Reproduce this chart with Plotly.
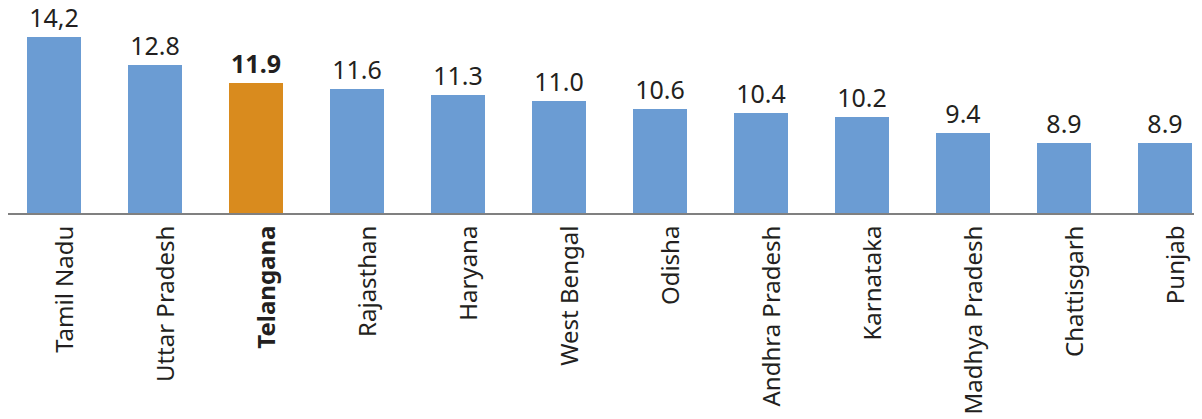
import plotly.graph_objects as go

states = ["Tamil Nadu", "Uttar Pradesh", "Telangana", "Rajasthan", "Haryana",
          "West Bengal", "Odisha", "Andhra Pradesh", "Karnataka",
          "Madhya Pradesh", "Chattisgarh", "Punjab"]
values = [14.2, 12.8, 11.9, 11.6, 11.3, 11.0, 10.6, 10.4, 10.2, 9.4, 8.9, 8.9]
value_labels = ["14,2", "12.8", "11.9", "11.6", "11.3", "11.0", "10.6", "10.4",
                "10.2", "9.4", "8.9", "8.9"]
highlight = "Telangana"

BLUE = "#6B9CD3"
ORANGE = "#D98B1E"
TEXT = "#231F20"
FONT = "Noto Sans"

colors = [ORANGE if s == highlight else BLUE for s in states]
texts = [f"<b>{t}</b>" if s == highlight else t for s, t in zip(states, value_labels)]
ticktext = [f"<b>{s}</b>" if s == highlight else s for s in states]

fig = go.Figure(go.Bar(
    x=list(range(len(states))),
    y=values,
    marker=dict(color=colors, line=dict(width=0)),
    width=0.535,
    text=texts,
    textposition="outside",
    textfont=dict(family=FONT, size=25, color=TEXT),
    cliponaxis=False,
    hoverinfo="skip",
))

# page body has an 8px margin, so the figure is sized to fill the rest
fig.update_layout(
    width=1194, height=411,
    margin=dict(l=0, r=0, t=0, b=206),
    paper_bgcolor="white", plot_bgcolor="white",
    showlegend=False,
    bargap=0,
    font=dict(family=FONT, color=TEXT),
    xaxis=dict(
        range=[-0.455, 11.366],
        tickmode="array",
        tickvals=list(range(len(states))),
        ticktext=ticktext,
        tickangle=-90,
        tickfont=dict(family=FONT, size=24, color=TEXT),
        showline=True, linecolor="#808080", linewidth=2,
        showgrid=False, zeroline=False,
        ticks="", ticklabelshift=11, ticklabelstandoff=1,
        fixedrange=True,
    ),
    yaxis=dict(
        range=[5.38, 15.63],
        visible=False,
        showgrid=False, zeroline=False,
        fixedrange=True,
    ),
)

fig.write_html("out.html", config={"displayModeBar": False})
